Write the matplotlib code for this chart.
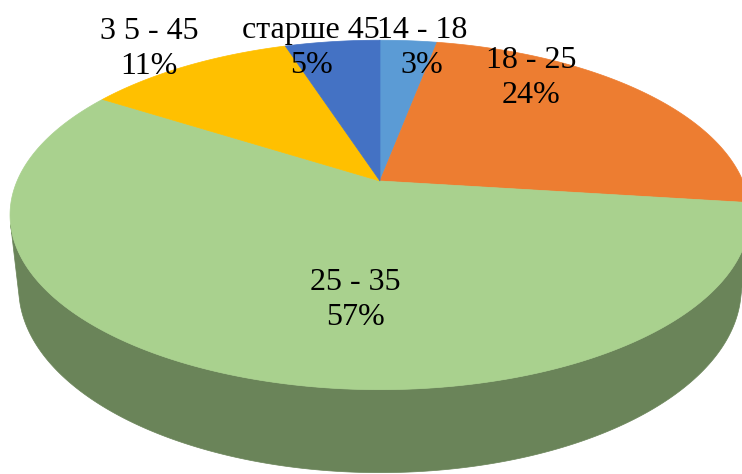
import numpy as np
import matplotlib.pyplot as plt
from matplotlib.patches import Polygon

labels = ["14 - 18", "18 - 25", "25 - 35", "3 5 - 45", "старше 45"]
shares = [3, 24, 57, 11, 5]
colors = ["#5B9BD5", "#ED7D31", "#A9D18E", "#FFC000", "#4472C4"]

# label centres in pixels, as they sit in the original
label_xy = [(422, 48), (531, 78), (355, 300), (149, 49), (311, 48)]

#==================== view setup (unit radius disc, perspective camera)
W, H = 742, 474
cx, cy = 380, 181
elev = np.radians(27.6)
D = 4.563
k = 1656.0
thick = 0.229
shade = 0.63


def project(x, y, z=0.0):
  s, c = np.sin(elev), np.cos(elev)
  w = D + y*c - z*s
  return cx + k*x/w, cy - k*(y*s + z*c)/w


def arc(a_from, a_to, z=0.0, n=None):
  if n is None:
    n = max(int(abs(a_to - a_from)*2), 2)
  t = np.radians(np.linspace(a_from, a_to, n))
  px, py = project(np.cos(t), np.sin(t), z)
  return np.column_stack([px, py])


fig = plt.figure(figsize=(W/100, H/100), dpi=100)
ax = fig.add_axes([0, 0, 1, 1])
ax.set_xlim(0, W)
ax.set_ylim(H, 0)
ax.axis("off")

total = float(sum(shares))
cum = np.concatenate([[0], np.cumsum(shares)])
starts = 90 - 360*cum[:-1]/total
ends = 90 - 360*cum[1:]/total

#==================== side walls (only the part facing the camera)
beta = np.degrees(np.arcsin(1.0/(D*np.cos(elev))))
f_lo, f_hi = -180 + beta, -beta
for a0, a1, col in zip(starts, ends, colors):
  rgb = np.array(plt.matplotlib.colors.to_rgb(col))*shade
  for shift in (-360, 0, 360):
    lo = max(a1, f_lo + shift)
    hi = min(a0, f_hi + shift)
    if lo < hi:
      top = arc(hi, lo)
      bot = arc(lo, hi, z=-thick)
      ax.add_patch(Polygon(np.vstack([top, bot]), closed=True,
                           facecolor=rgb, edgecolor=rgb, lw=0.5))

#==================== top face
for a0, a1, col in zip(starts, ends, colors):
  pts = np.vstack([[project(0, 0)], arc(a0, a1)])
  ax.add_patch(Polygon(pts, closed=True, facecolor=col, edgecolor=col, lw=0.5))

#==================== labels
for lab, v, (tx, ty) in zip(labels, shares, label_xy):
  ax.text(tx, ty, "{}\n{:.0f}%".format(lab, 100*v/total), ha="center",
          va="center", fontsize=23, family="Liberation Serif",
          linespacing=1.25, color="black")

fig.savefig("out.png", dpi=100, facecolor="white")
